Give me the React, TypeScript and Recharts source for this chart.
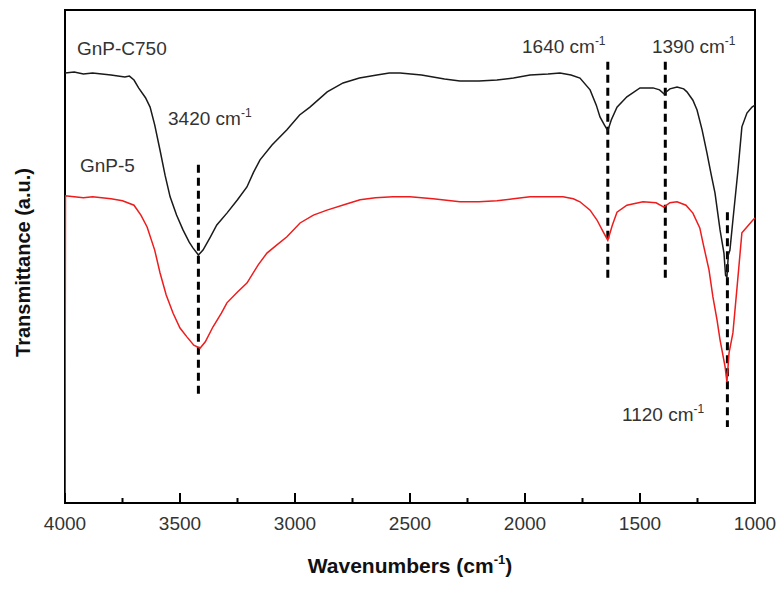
import React from 'react';
import { LineChart, Line, XAxis, YAxis, ReferenceLine, ReferenceDot, ReferenceArea } from 'recharts';

// GnP-C750 (black): [wavenumber, transmittance a.u.]
const c750Wave = [4000, 3960, 3920, 3880, 3840, 3800, 3740, 3720, 3700, 3680, 3650, 3630, 3610, 3587, 3565, 3543, 3515, 3487, 3460, 3443, 3420, 3400, 3370, 3340, 3296, 3250, 3209, 3180, 3152, 3100, 3035, 2980, 2935, 2860, 2791, 2720, 2644, 2590, 2543, 2450, 2350, 2283, 2200, 2122, 2050, 1978, 1900, 1848, 1800, 1761, 1717, 1690, 1674, 1655, 1640, 1625, 1600, 1557, 1500, 1443, 1415, 1396, 1370, 1339, 1310, 1296, 1270, 1252, 1230, 1209, 1190, 1174, 1152, 1135, 1128, 1122, 1116, 1109, 1096, 1074, 1057, 1035, 1013, 1000];
const c750Trans = [87.2, 87.4, 87.0, 87.2, 87.0, 86.8, 86.4, 86.6, 85.8, 84.2, 82.2, 80.3, 76.7, 71.6, 66.5, 62.1, 58.4, 55.4, 52.9, 51.7, 50.3, 51.3, 53.8, 56.4, 58.8, 61.5, 64.1, 67.1, 69.6, 72.6, 75.7, 78.7, 80.3, 83.4, 85.2, 86.2, 86.8, 87.2, 87.2, 86.8, 86.0, 85.6, 85.6, 85.8, 86.2, 86.8, 87.0, 87.2, 86.8, 86.2, 83.8, 80.7, 78.3, 76.7, 75.5, 77.7, 80.3, 82.4, 84.2, 84.2, 83.8, 83.0, 84.0, 84.4, 84.0, 83.4, 81.7, 79.7, 75.7, 71.0, 66.5, 62.9, 55.4, 50.7, 46.2, 45.8, 50.3, 51.3, 57.4, 67.5, 76.3, 79.1, 80.3, 80.7];

// GnP-5 (red)
const gnp5Wave = [4000, 3998, 3960, 3920, 3880, 3840, 3800, 3750, 3700, 3670, 3643, 3610, 3587, 3560, 3530, 3500, 3470, 3440, 3413, 3390, 3357, 3320, 3296, 3250, 3209, 3160, 3122, 3080, 3035, 2978, 2920, 2861, 2780, 2717, 2650, 2574, 2500, 2400, 2283, 2200, 2122, 2050, 1978, 1900, 1835, 1790, 1761, 1717, 1687, 1660, 1640, 1620, 1600, 1557, 1487, 1430, 1396, 1370, 1339, 1300, 1270, 1240, 1226, 1200, 1183, 1165, 1152, 1130, 1122, 1113, 1096, 1078, 1057, 1035, 1009, 1000];
const gnp5Trans = [0, 62.3, 62.1, 61.9, 62.1, 61.9, 61.7, 61.3, 60.4, 58.4, 56.0, 51.3, 46.7, 42.2, 38.5, 35.5, 33.7, 32.0, 31.4, 32.7, 35.7, 38.5, 40.6, 42.8, 44.6, 48.3, 50.7, 52.3, 54.0, 56.8, 58.4, 59.4, 60.6, 61.5, 61.9, 62.1, 62.1, 61.7, 61.1, 61.1, 61.3, 61.7, 62.1, 62.1, 62.1, 61.7, 61.1, 59.4, 57.4, 55.0, 53.3, 56.4, 59.0, 60.4, 61.1, 60.9, 60.0, 60.9, 61.1, 60.4, 58.8, 55.8, 52.7, 47.3, 41.8, 37.1, 33.1, 27.6, 24.5, 30.4, 34.5, 43.8, 54.8, 56.0, 57.4, 57.8];

const xTicks = [4000, 3750, 3500, 3250, 3000, 2750, 2500, 2250, 2000, 1750, 1500, 1250, 1000];

// Peak markers: wavenumber, top and bottom of dashed segment
const peakWave = [3420, 1640, 1390, 1120];
const peakTop = [68.6, 89.5, 89.5, 59.0];
const peakBottom = [21.5, 45.6, 45.6, 15.4];

// Text annotations: text, superscript, anchor wavenumber, anchor value
const noteText = ['GnP-C750', 'GnP-5', '3420 cm', '1640 cm', '1390 cm', '1120 cm'];
const noteSup = ['', '', '-1', '-1', '-1', '-1'];
const noteWave = [3948, 3935, 3552, 2013, 1448, 1578];
const noteValue = [90.9, 67.1, 76.7, 91.3, 91.3, 16.6];

const c750Data = c750Wave.map((w, i) => ({ w, t: c750Trans[i] }));
const gnp5Data = gnp5Wave.map((w, i) => ({ w, t: gnp5Trans[i] }));

const FONT = '"Liberation Sans", Arial, sans-serif';

const XTick = (props: any) => {
  const { x, y, payload } = props;
  const v = payload.value;
  const major = v % 500 === 0;
  return (
    <g>
      <line x1={x} y1={y} x2={x} y2={y - (major ? 10 : 5)} stroke="#000" strokeWidth={2} />
      {major && (
        <text x={x} y={y + 27} textAnchor="middle" fontSize={19} fill="#333" fontFamily={FONT}>
          {v}
        </text>
      )}
    </g>
  );
};

const makeNote = (text: string, sup: string) => (props: any) => {
  const vb = props.viewBox || {};
  return (
    <text x={vb.x} y={vb.y} fontSize={19} fill="#333" fontFamily={FONT} textAnchor="start">
      {text}
      {sup && (
        <tspan dy={-8} fontSize={12}>
          {sup}
        </tspan>
      )}
    </text>
  );
};

const XTitle = (props: any) => {
  const vb = props.viewBox;
  return (
    <text x={vb.x + vb.width / 2} y={vb.y + 70} textAnchor="middle" fontSize={21} fontWeight="bold" fill="#111" fontFamily={FONT}>
      Wavenumbers (cm
      <tspan dy={-9} fontSize={13}>-1</tspan>
      <tspan dy={9}>)</tspan>
    </text>
  );
};

const YTitle = (props: any) => {
  const vb = props.viewBox;
  const cx = vb.x + vb.width - 42;
  const cy = vb.y + vb.height / 2 + 6;
  return (
    <text x={cx} y={cy} transform={`rotate(-90 ${cx} ${cy})`} textAnchor="middle" dominantBaseline="central" fontSize={20} fontWeight="bold" fill="#111" fontFamily={FONT}>
      Transmittance (a.u.)
    </text>
  );
};

export default function App() {
  return (
    <div style={{ position: 'absolute', left: 0, top: 0, width: 784, height: 592, background: '#fff' }}>
      <LineChart width={784} height={592} margin={{ top: 10, right: 29, left: 64, bottom: 0 }}>
        <ReferenceArea x1={4000} x2={1000} y1={0} y2={100} fill="none" stroke="#000" strokeWidth={2} ifOverflow="visible" />
        <XAxis
          dataKey="w"
          type="number"
          domain={[1000, 4000]}
          reversed
          ticks={xTicks}
          interval={0}
          tick={<XTick />}
          tickLine={false}
          tickSize={0}
          tickMargin={0}
          height={89}
          axisLine={{ stroke: '#000', strokeWidth: 2 }}
          allowDataOverflow
          label={{ content: <XTitle /> } as any}
        />
        <YAxis
          type="number"
          domain={[0, 100]}
          tick={false}
          tickLine={false}
          width={1}
          axisLine={false}
          allowDataOverflow
          label={{ content: <YTitle /> } as any}
        />
        {peakWave.map((w, i) => (
          <ReferenceLine
            key={'p' + w}
            segment={[{ x: w, y: peakTop[i] }, { x: w, y: peakBottom[i] }]}
            stroke="#000"
            strokeWidth={3}
            strokeDasharray="8 5"
          />
        ))}
        <Line data={c750Data} dataKey="t" type="linear" stroke="#1a1a1a" strokeWidth={1.5} dot={false} isAnimationActive={false} />
        <Line data={gnp5Data} dataKey="t" type="linear" stroke="#ee1c1c" strokeWidth={1.5} dot={false} isAnimationActive={false} />
        {noteText.map((t, i) => (
          <ReferenceDot
            key={'n' + i}
            x={noteWave[i]}
            y={noteValue[i]}
            r={0}
            fill="none"
            stroke="none"
            ifOverflow="visible"
            label={{ content: makeNote(t, noteSup[i]) } as any}
          />
        ))}
      </LineChart>
    </div>
  );
}
